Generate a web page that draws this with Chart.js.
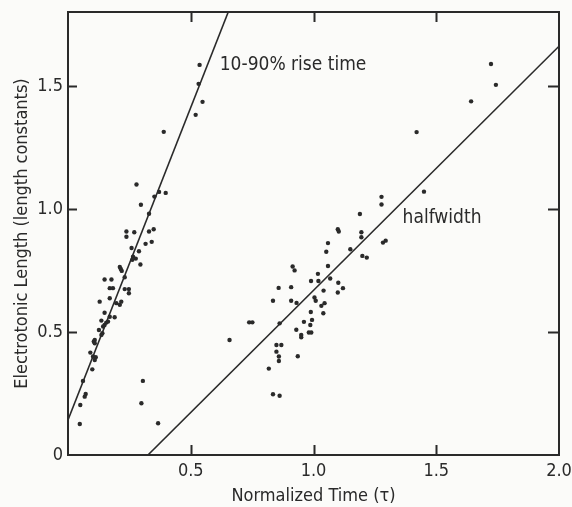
<!DOCTYPE html>
<html><head><meta charset="utf-8">
<script src="https://cdn.jsdelivr.net/npm/chart.js@4.4.1/dist/chart.umd.min.js"></script>
<style>html,body{margin:0;padding:0;background:#fbfbf9;}#wrap{width:572px;height:507px;position:relative;}</style>
</head><body><div id="wrap"><canvas id="c" width="572" height="507"></canvas></div>
<script>
// ---- data ----
const riseTimeX = [0.536,0.532,0.548,0.520,0.390,0.279,0.371,0.398,0.352,0.297,0.330,0.238,0.238,0.270,0.330,0.349,0.316,0.341,0.259,0.289,0.265,0.276,0.262,0.295,0.211,0.215,0.219,0.149,0.177,0.231,0.170,0.183,0.231,0.248,0.248,0.170,0.129,0.197,0.211,0.217,0.149,0.170,0.190,0.136,0.156,0.163,0.149,0.143,0.126,0.140,0.136,0.109,0.105,0.109,0.091,0.102,0.113,0.109,0.099,0.061,0.072,0.068,0.050,0.048];
const riseTimeY = [1.585,1.508,1.435,1.382,1.313,1.099,1.069,1.065,1.050,1.017,0.980,0.908,0.887,0.905,0.908,0.917,0.858,0.866,0.841,0.828,0.806,0.798,0.793,0.774,0.764,0.756,0.748,0.713,0.713,0.722,0.678,0.678,0.674,0.674,0.657,0.637,0.623,0.617,0.610,0.623,0.578,0.562,0.560,0.546,0.538,0.542,0.528,0.522,0.508,0.495,0.488,0.467,0.461,0.454,0.416,0.400,0.397,0.386,0.348,0.301,0.248,0.237,0.203,0.126];
const halfwidthX = [0.305,0.299,0.367,1.723,1.743,1.642,1.420,1.450,1.277,1.277,1.189,1.099,1.103,1.195,1.195,1.059,1.052,1.150,1.283,1.294,1.199,1.217,0.915,0.923,1.059,1.018,0.990,1.020,1.068,1.101,1.120,0.858,0.909,1.041,1.099,0.835,0.909,0.931,1.004,1.009,1.032,1.045,0.989,1.040,0.994,0.961,0.987,0.738,0.751,0.862,0.930,0.981,0.991,0.950,0.950,0.658,0.849,0.869,0.849,0.859,0.859,0.936,0.818,0.835,0.862];
const halfwidthY = [0.301,0.210,0.129,1.589,1.504,1.437,1.312,1.070,1.049,1.018,0.979,0.917,0.908,0.905,0.885,0.861,0.826,0.836,0.863,0.871,0.809,0.802,0.766,0.750,0.768,0.736,0.707,0.707,0.717,0.700,0.678,0.679,0.682,0.668,0.660,0.627,0.627,0.618,0.640,0.627,0.606,0.617,0.581,0.576,0.549,0.541,0.528,0.539,0.539,0.535,0.509,0.498,0.498,0.488,0.478,0.467,0.447,0.447,0.420,0.400,0.382,0.401,0.351,0.247,0.241];
const riseFit = [2.54, 0.142];      // slope, intercept
const halfwidthFit = [0.992, -0.323]; // slope, intercept
const xTickValues = [0.5, 1.0, 1.5, 2.0];
const xTickLabels = ['0.5', '1.0', '1.5', '2.0'];
const yTickValues = [0, 0.5, 1.0, 1.5];
const yTickLabels = ['0', '0.5', '1.0', '1.5'];
const seriesNames = ['10-90% rise time', 'halfwidth'];
const xTitle = 'Normalized Time (\u03c4)';
const yTitle = 'Electrotonic Length (length constants)';
const X_MIN = 0, X_MAX = 2.0, Y_MIN = 0, Y_MAX = 1.8;

// ---- build ----
const zip = (xs, ys) => xs.map((v, i) => ({x: v, y: ys[i]}));
function fitLine(f) {
  const [m, b] = f;
  let x0 = X_MIN, y0 = m * x0 + b;
  if (y0 < Y_MIN) { x0 = (Y_MIN - b) / m; y0 = Y_MIN; }
  let x1 = X_MAX, y1 = m * x1 + b;
  if (y1 > Y_MAX) { x1 = (Y_MAX - b) / m; y1 = Y_MAX; }
  return [{x: x0, y: y0}, {x: x1, y: y1}];
}
const INK = '#2a2a2a';
const FONT = "'Liberation Sans Narrow', 'DejaVu Sans Condensed', 'Liberation Sans', sans-serif";
const labelPos = [{x: 0.618, y: 1.585}, {x: 1.363, y: 0.963}];

const framePlugin = {
  id: 'frame',
  afterDraw(chart) {
    const {ctx, chartArea: a, scales: {x, y}} = chart;
    ctx.save();
    ctx.strokeStyle = INK;
    ctx.lineWidth = 2;
    ctx.strokeRect(a.left, a.top, a.right - a.left, a.bottom - a.top);
    ctx.beginPath();
    xTickValues.forEach(v => {
      if (v <= X_MIN || v >= X_MAX) return;
      const px = Math.round(x.getPixelForValue(v)) + 0.5;
      ctx.moveTo(px, a.bottom); ctx.lineTo(px, a.bottom - 10);
      ctx.moveTo(px, a.top); ctx.lineTo(px, a.top + 10);
    });
    yTickValues.forEach(v => {
      if (v <= Y_MIN || v >= Y_MAX) return;
      const py = Math.round(y.getPixelForValue(v)) + 0.5;
      ctx.moveTo(a.left, py); ctx.lineTo(a.left + 9, py);
      ctx.moveTo(a.right, py); ctx.lineTo(a.right - 11, py);
    });
    ctx.stroke();
    ctx.fillStyle = INK;
    ctx.font = '19px ' + FONT;
    ctx.textBaseline = 'middle';
    ctx.textAlign = 'left';
    seriesNames.forEach((t, i) => {
      ctx.fillText(t, x.getPixelForValue(labelPos[i].x), y.getPixelForValue(labelPos[i].y));
    });
    ctx.restore();
  }
};

new Chart(document.getElementById('c'), {
  type: 'scatter',
  data: {
    datasets: [
      {label: seriesNames[0], data: zip(riseTimeX, riseTimeY), pointRadius: 2.2, pointBackgroundColor: INK, pointBorderWidth: 0},
      {label: seriesNames[1], data: zip(halfwidthX, halfwidthY), pointRadius: 2.2, pointBackgroundColor: INK, pointBorderWidth: 0},
      {type: 'line', label: 'rise fit', data: fitLine(riseFit), borderColor: INK, borderWidth: 1.6, pointRadius: 0, fill: false},
      {type: 'line', label: 'halfwidth fit', data: fitLine(halfwidthFit), borderColor: INK, borderWidth: 1.6, pointRadius: 0, fill: false}
    ]
  },
  options: {
    responsive: false, animation: false, devicePixelRatio: 1,
    layout: {padding: {top: 12, right: 13, left: 0, bottom: 0}},
    plugins: {legend: {display: false}, tooltip: {enabled: false}},
    scales: {
      x: {
        type: 'linear', min: X_MIN, max: X_MAX,
        afterBuildTicks: s => { s.ticks = xTickValues.map(v => ({value: v})); },
        afterFit: s => { s.height = 52; s.paddingLeft = 0; s.paddingRight = 0; },
        grid: {display: false, drawTicks: false},
        border: {display: false},
        ticks: {color: INK, font: {size: 18, family: FONT}, padding: 6,
          callback: (v) => xTickLabels[xTickValues.indexOf(v)] ?? ''},
        title: {display: true, text: xTitle, color: INK, font: {size: 18, family: FONT}, padding: {top: 0, bottom: 0}}
      },
      y: {
        type: 'linear', min: Y_MIN, max: Y_MAX,
        afterBuildTicks: s => { s.ticks = yTickValues.map(v => ({value: v})); },
        afterFit: s => { s.width = 68; s.paddingTop = 0; s.paddingBottom = 0; },
        grid: {display: false, drawTicks: false},
        border: {display: false},
        ticks: {color: INK, font: {size: 18, family: FONT}, padding: 5,
          callback: (v) => yTickLabels[yTickValues.indexOf(v)] ?? ''},
        title: {display: true, text: yTitle, color: INK, font: {size: 18, family: FONT}, padding: {top: 12, bottom: 0}}
      }
    }
  },
  plugins: [framePlugin]
});
</script></body></html>
